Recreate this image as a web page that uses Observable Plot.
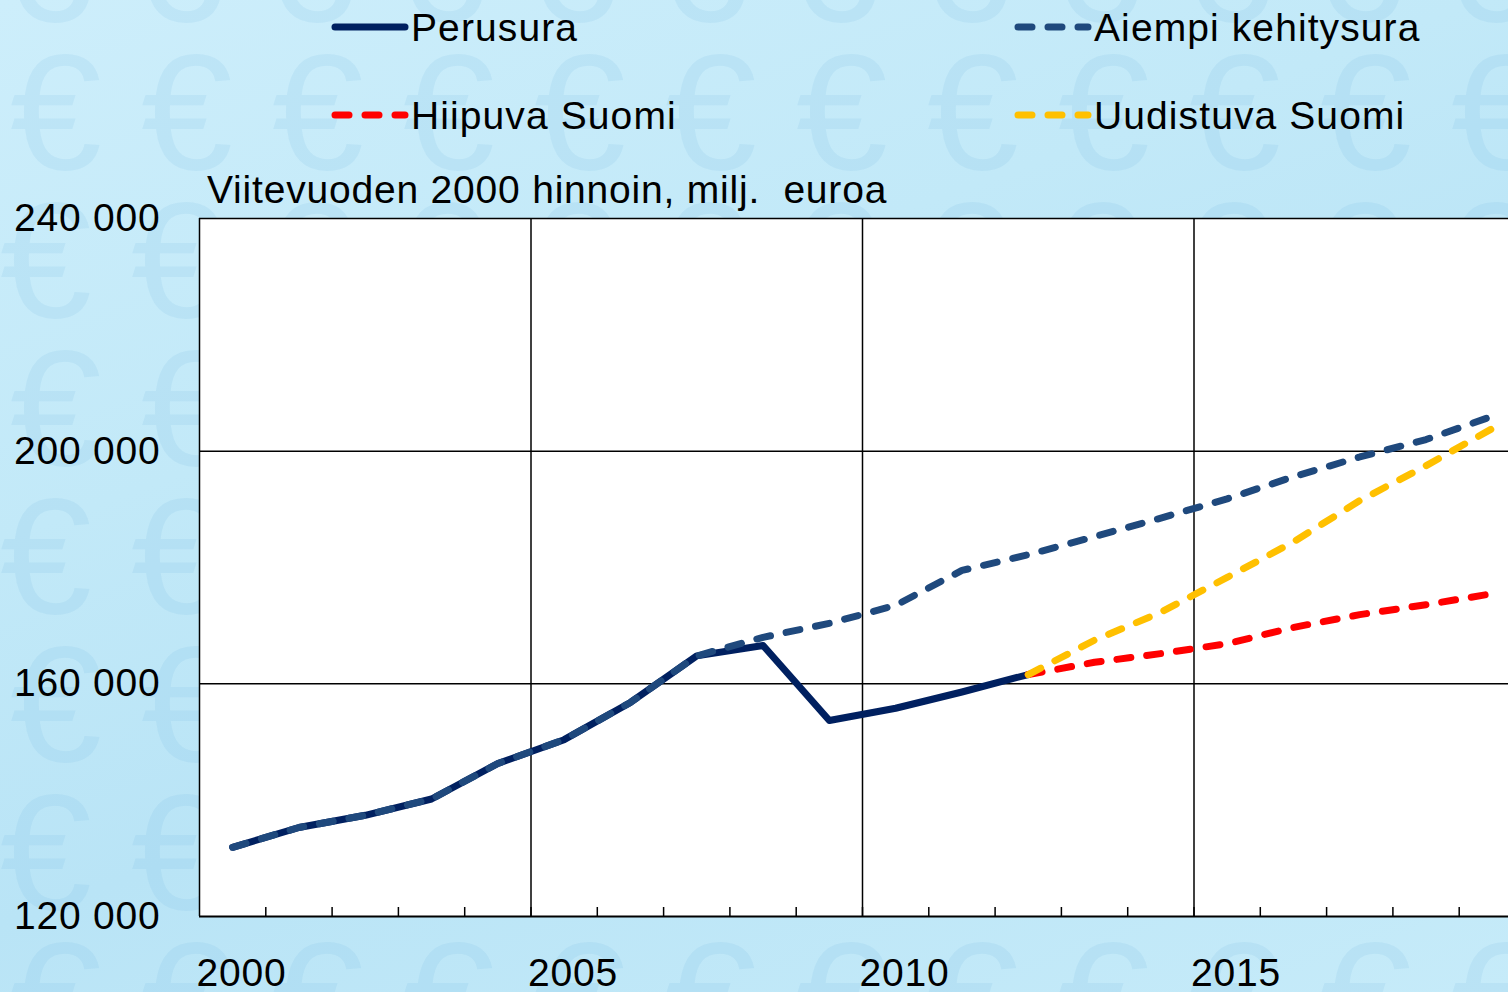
<!DOCTYPE html>
<html>
<head>
<meta charset="utf-8">
<script src="https://cdn.jsdelivr.net/npm/d3@7"></script>
<script src="https://cdn.jsdelivr.net/npm/@observablehq/plot@0.6"></script>
<style>
html,body{margin:0;padding:0;width:1508px;height:992px;overflow:hidden;}
body{font-family:"Liberation Sans",Arial,sans-serif;
  background:linear-gradient(160deg,#cdeefb 0%,#c2e9f8 35%,#b9e4f6 60%,#c6ebf9 100%);}
#wrap{position:relative;width:1508px;height:992px;}
#bg{position:absolute;left:0;top:0;width:1508px;height:992px;overflow:hidden;}
#bg span{position:absolute;font-size:165px;line-height:165px;color:rgba(95,175,220,0.12);font-family:"Liberation Sans",Arial,sans-serif;}
#chart{position:absolute;left:0;top:0;}
.txt{position:absolute;font-size:39px;letter-spacing:0.8px;line-height:40px;color:#000;white-space:nowrap;}
.leg{letter-spacing:1.1px;}
.sw{position:absolute;}
</style>
</head>
<body>
<div id="wrap">
  <div id="bg" aria-hidden="true"></div>
  <div id="chart"></div>
  <div id="legend"></div>
  <div class="txt" style="left:207px;top:170px;">Viitevuoden 2000 hinnoin, milj.&nbsp; euroa</div>
</div>
<script>
// ---- data ----
const years = d3.range(2000, 2020);
const perusuraYears = d3.range(2000, 2013);
const perusura = [131900,135300,137400,140200,146300,150400,156800,164800,166600,153700,155800,158600,161600];
const aiempi = [131900,135300,137400,140200,146300,150400,156800,164800,168000,170400,173500,179500,182200,185300,188500,191800,195600,199000,202000,206000];
const scenarioYears = d3.range(2012, 2020);
const hiipuva = [161600,163700,165200,166900,169700,171900,173600,175500];
const uudistuva = [161600,167500,172300,178300,184400,191500,197500,203900];
const yTicks = [120000,160000,200000,240000];
const xLabels = [2000,2005,2010,2015];

const seriesNames = ["Perusura","Aiempi kehitysura","Hiipuva Suomi","Uudistuva Suomi"];
const seriesColors = ["#002060","#1F497D","#FF0000","#FFC000"];
const seriesDash = [null,"14,16","14,16","14,16"];

const rowsP = perusuraYears.map((y,i)=>({year:y,value:perusura[i]}));
const rowsA = years.map((y,i)=>({year:y,value:aiempi[i]}));
const rowsH = scenarioYears.map((y,i)=>({year:y,value:hiipuva[i]}));
const rowsU = scenarioYears.map((y,i)=>({year:y,value:uudistuva[i]}));
const seriesRows = [rowsP, rowsA, rowsH, rowsU];

// background euro-sign pattern (decoration of the slide), hidden parts behind the plot skipped
const bg = document.getElementById("bg");
for (let r = -1; r < 8; r++) {
  for (let c = -1; c < 13; c++) {
    const left = c*131 + (r%2 ? 0 : 10);
    const top = r*148 + 30;
    const inside = left > 199 && top + 30 > 218 && top + 140 < 916;
    if (inside) continue;
    const s = document.createElement("span");
    s.textContent = "€";
    s.style.left = left + "px";
    s.style.top = top + "px";
    bg.appendChild(s);
  }
}

const fmt = d => d3.format(",")(d).replace(/,/g, " ");
const lineMarks = seriesRows.map((rows,i) => Plot.line(rows, {
  x: d => d.year + 0.5, y: "value",
  stroke: seriesColors[i], strokeWidth: 7,
  strokeDasharray: seriesDash[i] || undefined,
  strokeLinecap: "round", strokeLinejoin: "round"
}));

const chart = Plot.plot({
  width: 1508, height: 992,
  marginLeft: 199, marginRight: 0, marginTop: 218, marginBottom: 76,
  style: {background: "transparent", fontFamily: "Liberation Sans, Arial, sans-serif", fontSize: "39px", color: "#000", letterSpacing: "0.8px", overflow: "visible"},
  x: {domain: [2000, 2000 + 1309/66.3], axis: null},
  y: {domain: [120000, 240000], axis: null},
  marks: [
    Plot.frame({fill: "white", stroke: null}),
    Plot.ruleY(yTicks.slice(1), {stroke: "#000", strokeWidth: 1.5}),
    Plot.ruleX(xLabels, {stroke: "#000", strokeWidth: 1.5}),
    Plot.axisX(years.slice(1), {anchor: "bottom", tickSize: -9, strokeWidth: 1.5, tickFormat: () => "", label: null}),
    Plot.ruleY([120000], {stroke: "#000", strokeWidth: 2}),
    Plot.axisY(yTicks, {anchor: "left", tickSize: 0, tickPadding: 39, tickFormat: fmt, label: null, fontSize: 39}),
    Plot.axisX(xLabels, {anchor: "bottom", tickSize: 0, tickPadding: 42, textAnchor: "start", dx: -3, tickFormat: d => String(d), label: null, fontSize: 39}),
    ...lineMarks
  ]
});
document.getElementById("chart").appendChild(chart);

// legend
const legend = document.getElementById("legend");
const legPos = [[333, 8],[1016, 8],[333, 96],[1016, 96]];
[0,1,2,3].forEach((si, k) => {
  const [lx, ly] = legPos[k];
  const ns = "http://www.w3.org/2000/svg";
  const svg = document.createElementNS(ns, "svg");
  svg.setAttribute("width", 80); svg.setAttribute("height", 16);
  svg.setAttribute("class", "sw");
  svg.style.left = (lx - 3) + "px"; svg.style.top = (ly + 11) + "px";
  const ln = document.createElementNS(ns, "line");
  ln.setAttribute("x1", 5); ln.setAttribute("x2", 75);
  ln.setAttribute("y1", 8); ln.setAttribute("y2", 8);
  ln.setAttribute("stroke", seriesColors[si]);
  ln.setAttribute("stroke-width", 7);
  ln.setAttribute("stroke-linecap", "round");
  if (seriesDash[si]) ln.setAttribute("stroke-dasharray", seriesDash[si]);
  svg.appendChild(ln);
  legend.appendChild(svg);
  const t = document.createElement("div");
  t.className = "txt leg";
  t.style.left = (lx + 78) + "px"; t.style.top = ly + "px";
  t.textContent = seriesNames[si];
  legend.appendChild(t);
});
</script>
</body>
</html>
